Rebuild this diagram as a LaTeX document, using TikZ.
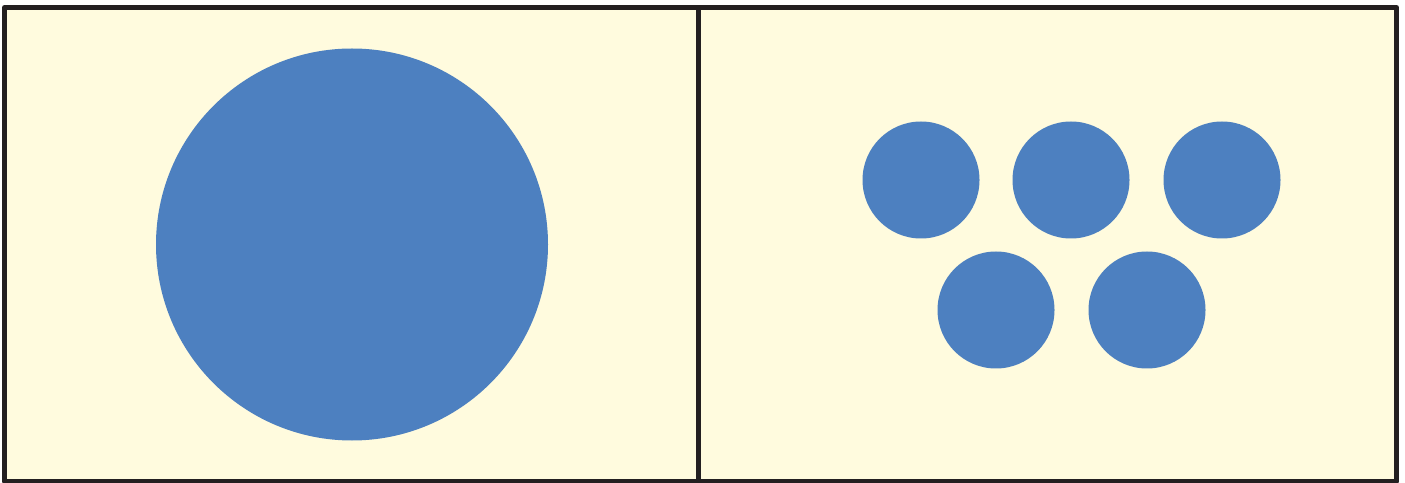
\documentclass[tikz,border=0pt]{standalone}
\usetikzlibrary{positioning}

\definecolor{panelcream}{RGB}{255,251,222}
\definecolor{dropblue}{RGB}{77,128,192}
\definecolor{frameink}{RGB}{35,31,32}

\begin{document}
\begin{tikzpicture}[x=1pt, y=1pt, line join=round, line cap=round]
    \useasboundingbox (0,0) rectangle (1405,482);
    % two panels
    \fill[panelcream] (4.5,1) rectangle (1396.5,474.5);
    \draw[frameink, line width=5pt, line cap=butt] (4.5,1) rectangle (698,474.5);
    \draw[frameink, line width=5pt, line cap=butt] (698,1) rectangle (1396.5,474.5);
    % one big drop
    \fill[dropblue] (352,237.5) circle (196);
    % five small drops
    \foreach \x in {921,1071,1222}
        \fill[dropblue] (\x,302) circle (58.5);
    \foreach \x in {996,1147}
        \fill[dropblue] (\x,172) circle (58.5);
  \end{tikzpicture}
\end{document}
